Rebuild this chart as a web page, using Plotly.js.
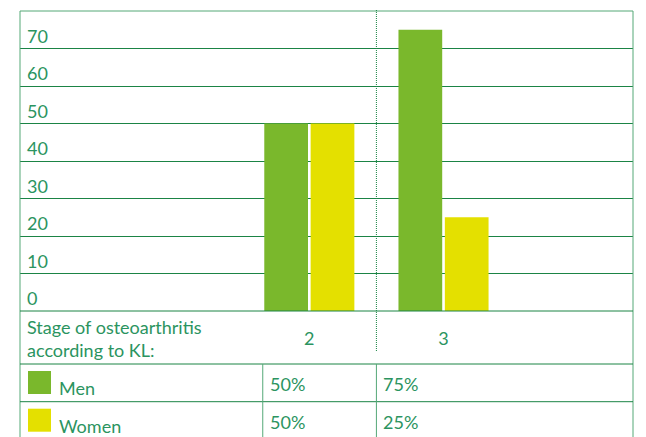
<!DOCTYPE html>
<html>
<head>
<meta charset="utf-8">
<script src="https://cdn.plot.ly/plotly-3.0.1.min.js"></script>
<style>
  html, body { margin: 0; padding: 0; background: #ffffff; }
  #chart { width: 646px; height: 437px; }
</style>
</head>
<body>
<div id="chart"></div>
<script>
// Share of patients by osteoarthritis stage (Kellgren–Lawrence), by sex
const stages = [2, 3];
const stageLabels = ['2', '3'];
const men = [50, 75];
const women = [50, 25];
const seriesNames = ['Men', 'Women'];
const yTicks = [0, 10, 20, 30, 40, 50, 60, 70];
const rowHeader = ['Stage of osteoarthritis', 'according to KL:'];

const GREEN = '#7ab82c';
const YELLOW = '#e4e000';
const TEXT = '#2b9460';
const GRID = '#1b8445';
const FRAME = '#55a877';
const FONT = 'Lato, "Open Sans", sans-serif';

// figure geometry (pixels)
const W = 646, H = 437;
const M = { l: 20, r: 13, t: 11, b: 126 };
const plotW = W - M.l - M.r;
const plotH = H - M.t - M.b;
const px2x = (px) => (px - M.l) / plotW;          // paper x from pixel
const px2y = (py) => (H - M.b - py) / plotH;      // paper y from pixel

// table rows below the chart
const rowTop = [364, 401.7];
const rowMid = [386, 423.5];
const colEdge = [1.653, 2.5];                      // column boundaries in axis units

const traces = [
  { type: 'bar', name: seriesNames[0], x: stages, y: men,
    marker: { color: GREEN }, hoverinfo: 'skip' },
  { type: 'bar', name: seriesNames[1], x: stages, y: women,
    marker: { color: YELLOW }, hoverinfo: 'skip' }
];

const shapes = [];
const line = (x0, y0, x1, y1, color, dash, xref) => shapes.push({
  type: 'line', xref: xref || 'paper', yref: 'paper',
  x0, y0, x1, y1, line: { color, width: 1, dash: dash || 'solid' }, layer: 'above'
});

// outer frame
line(0, px2y(11), 1, px2y(11), FRAME);
line(0, px2y(11), 0, px2y(H + 5), FRAME);
line(1, px2y(11), 1, px2y(H + 5), FRAME);
// baseline and table rows
line(0, px2y(311), 1, px2y(311), GRID);
rowTop.forEach(r => line(0, px2y(r), 1, px2y(r), GRID));
// dotted separator between stages
line(2.5, px2y(10), 2.5, px2y(352), GRID, '1px,1px', 'x');
// table column lines
colEdge.forEach(c => line(c, px2y(rowTop[0]), c, px2y(H + 5), FRAME, 'solid', 'x'));
// legend swatches
[GREEN, YELLOW].forEach((c, i) => shapes.push({
  type: 'rect', xref: 'paper', yref: 'paper', layer: 'above',
  x0: px2x(28), x1: px2x(51), y0: px2y(rowTop[i] + 7), y1: px2y(rowTop[i] + 30),
  fillcolor: c, line: { width: 0 }
}));

const annotations = [];
const note = (text, x, y, opts) => annotations.push(Object.assign({
  text, x, y, xref: 'paper', yref: 'paper',
  xanchor: 'left', yanchor: 'middle', showarrow: false,
  font: { family: FONT, size: 18, color: TEXT }
}, opts || {}));

// value labels of the y axis sit just above their grid lines
yTicks.forEach(v => note(String(v), px2x(25), v, { yref: 'y', yshift: 13 }));

note(rowHeader.join('<br>'), px2x(25), px2y(338), { align: 'left' });
seriesNames.forEach((n, i) => note(n, px2x(57), px2y(rowMid[i] + 2)));
[men, women].forEach((vals, i) => {
  vals.forEach((v, j) => note(v + '%', colEdge[j], px2y(rowMid[i] - 2), { xref: 'x', xshift: 5 }));
});

const layout = {
  width: W, height: H,
  margin: M,
  paper_bgcolor: '#ffffff', plot_bgcolor: '#ffffff',
  showlegend: false,
  barmode: 'group', bargap: 0.309, bargroupgap: 0.057,
  font: { family: FONT, size: 18, color: TEXT },
  xaxis: {
    range: [-0.156, 4.412], tickvals: stages, ticktext: stageLabels,
    showgrid: false, zeroline: false, showline: false, ticks: '',
    ticklabelstandoff: 15, tickfont: { family: FONT, size: 18, color: TEXT },
    fixedrange: true
  },
  yaxis: {
    range: [0, 80], tickvals: yTicks, showticklabels: false,
    showgrid: true, gridcolor: GRID, gridwidth: 1,
    zeroline: false, showline: false, ticks: '',
    fixedrange: true
  },
  shapes, annotations
};

Plotly.newPlot('chart', traces, layout, { displayModeBar: false, staticPlot: true });
</script>
</body>
</html>
